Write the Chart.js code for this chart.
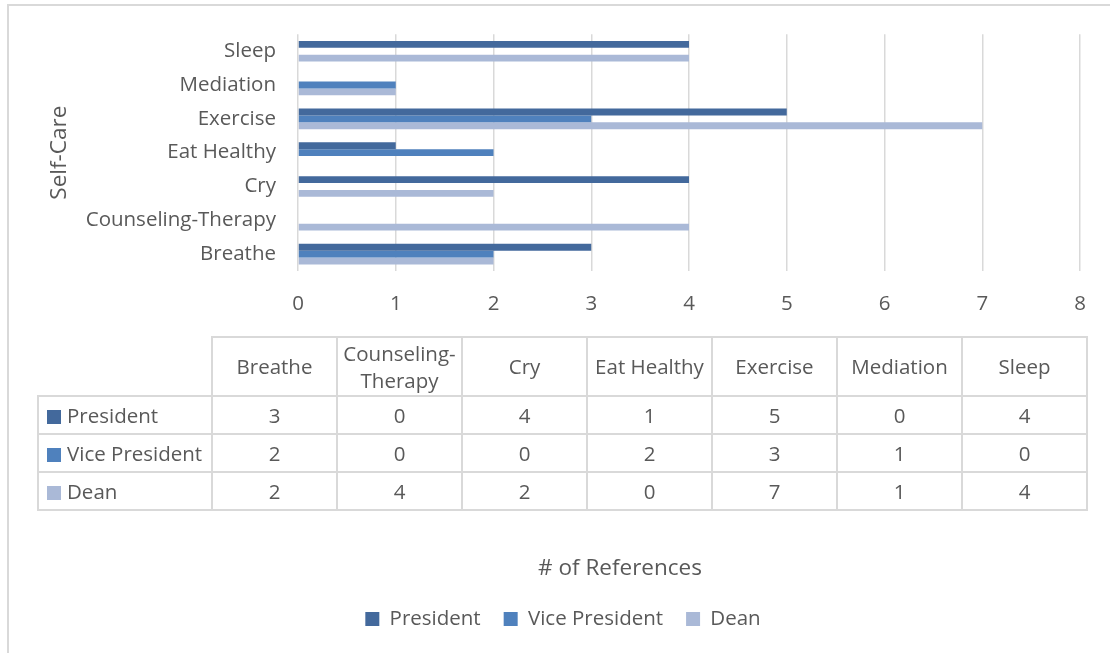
<!DOCTYPE html>
<html>
<head>
<meta charset="utf-8">
<script src="https://cdn.jsdelivr.net/npm/chart.js@4.4.1/dist/chart.umd.min.js"></script>
<style>
  html, body { margin: 0; padding: 0; background: #ffffff; }
  body {
    width: 1110px; height: 653px; overflow: hidden; position: relative;
    font-family: "Open Sans", sans-serif; color: #595959;
  }
  #frame {
    position: absolute; left: 7px; top: 4px; width: 1200px; height: 760px;
    border-top: 2px solid #d9d9d9; border-left: 2px solid #d9d9d9;
  }
  #wrap { position: absolute; left: 0; top: 0; width: 1110px; height: 680px; }
  #xTitle {
    position: absolute; left: 420px; width: 400px; top: 552px;
    text-align: center; font-size: 22.5px; line-height: 30px;
  }
  table#dataTable {
    position: absolute; left: 37px; top: 336px; width: 1051px;
    border-collapse: collapse; table-layout: fixed;
    font-size: 20.5px; color: #595959;
  }
  #dataTable td, #dataTable th {
    border: 2px solid #d9d9d9; text-align: center; font-weight: normal;
    padding: 0; overflow: hidden;
  }
  #dataTable thead tr { height: 59px; }
  #dataTable thead th { line-height: 27px; }
  #dataTable th.corner { border-top: none; border-left: none; }
  #dataTable tbody tr { height: 38px; }
  #dataTable td.lbl { text-align: left; padding-left: 8px; white-space: nowrap; }
  .sw { display: inline-block; width: 14px; height: 14px; margin-right: 6px; vertical-align: -1px; }
</style>
</head>
<body>
<div id="frame"></div>
<div id="wrap"><canvas id="chart"></canvas></div>
<table id="dataTable"></table>
<div id="xTitle"></div>
<script>
// Self-care strategies, counted per role
const categories = ["Breathe", "Counseling-Therapy", "Cry", "Eat Healthy", "Exercise", "Mediation", "Sleep"];
const tableHeaders = ["Breathe", "Counseling-<br>Therapy", "Cry", "Eat Healthy", "Exercise", "Mediation", "Sleep"];
const seriesNames = ["President", "Vice President", "Dean"];
const president = [3, 0, 4, 1, 5, 0, 4];
const vicePresident = [2, 0, 0, 2, 3, 1, 0];
const dean = [2, 4, 2, 0, 7, 1, 4];
const xTicks = [0, 1, 2, 3, 4, 5, 6, 7, 8];
const xAxisTitle = "# of References";
const yAxisTitle = "Self-Care";

const seriesValues = [president, vicePresident, dean];
const seriesColors = ["#43699c", "#4f81bd", "#aab9d7"];
const textColor = "#595959";
const baseFont = "'Open Sans', sans-serif";

// data table under the plot
(function buildTable() {
  const t = document.getElementById("dataTable");
  let html = '<colgroup><col style="width:174px">';
  for (let i = 0; i < categories.length; i++) html += '<col>';
  html += '</colgroup><thead><tr><th class="corner"></th>';
  tableHeaders.forEach(h => { html += '<th>' + h + '</th>'; });
  html += '</tr></thead><tbody>';
  seriesNames.forEach((name, s) => {
    html += '<tr><td class="lbl"><span class="sw" style="background:' + seriesColors[s] + '"></span>' + name + '</td>';
    seriesValues[s].forEach(v => { html += '<td>' + v + '</td>'; });
    html += '</tr>';
  });
  html += '</tbody>';
  t.innerHTML = html;
  document.getElementById("xTitle").textContent = xAxisTitle;
})();

const ctx = document.getElementById("chart");
new Chart(ctx, {
  type: "bar",
  data: {
    labels: categories,
    datasets: seriesNames.map((name, i) => ({
      label: name,
      data: seriesValues[i],
      backgroundColor: seriesColors[i],
      borderWidth: 0,
      categoryPercentage: 0.61,
      barPercentage: 1.0
    }))
  },
  options: {
    indexAxis: "y",
    responsive: true,
    maintainAspectRatio: false,
    animation: false,
    layout: { padding: { left: 46, right: 30, top: 34, bottom: 40.75 } },
    scales: {
      x: {
        min: xTicks[0],
        max: xTicks[xTicks.length - 1],
        afterBuildTicks: (scale) => { scale.ticks = xTicks.map(v => ({ value: v })); },
        afterFit: (scale) => { scale.height = 314.75; },
        grid: { color: "#d9d9d9", lineWidth: 1.5, drawTicks: false },
        border: { display: false },
        ticks: { color: textColor, font: { family: baseFont, size: 20.5 }, padding: 21 }
      },
      y: {
        reverse: true,
        afterFit: (scale) => { scale.width = 298 - 46; },
        grid: { display: false, drawTicks: false },
        border: { display: false },
        ticks: { color: textColor, font: { family: baseFont, size: 20.5 }, padding: 22 },
        title: {
          display: true, text: yAxisTitle, color: textColor,
          font: { family: baseFont, size: 22.5 }, padding: { top: 0, bottom: 0 }
        }
      }
    },
    plugins: {
      legend: {
        position: "bottom",
        labels: {
          color: textColor, font: { family: baseFont, size: 20.5 },
          boxWidth: 14, boxHeight: 14, padding: 23
        }
      },
      tooltip: { enabled: false }
    }
  }
});
</script>
</body>
</html>
